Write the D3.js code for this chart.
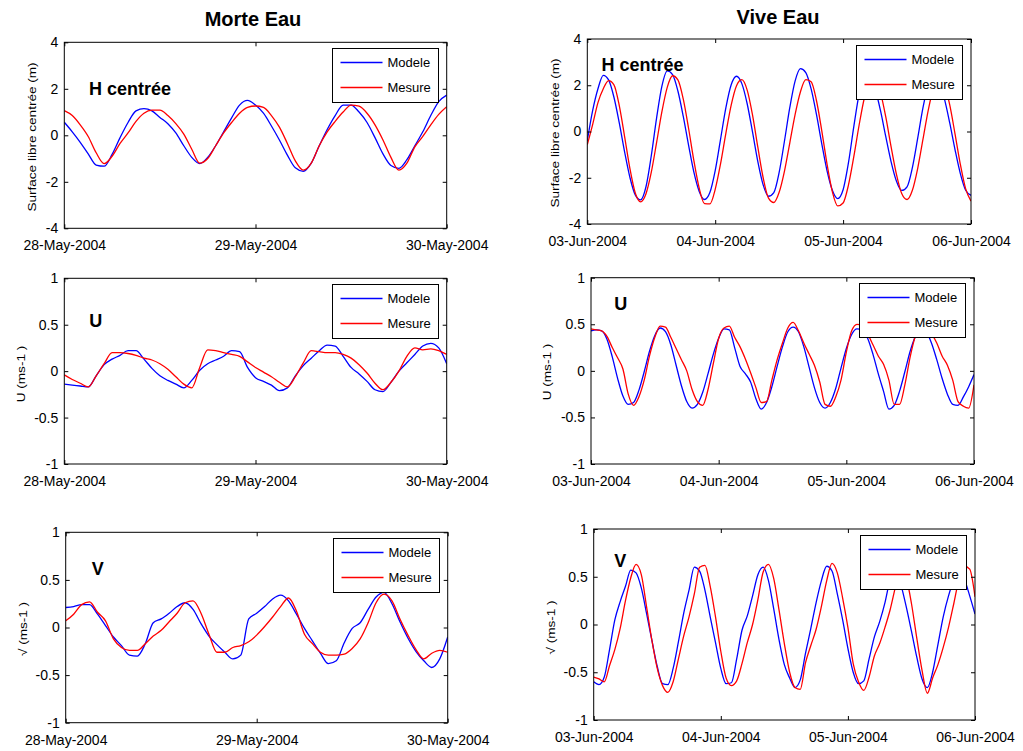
<!DOCTYPE html>
<html>
<head>
<meta charset="utf-8">
<script src="https://cdn.jsdelivr.net/npm/d3@7"></script>
<style>
  body { margin: 0; background: #fff; }
  svg { display: block; font-family: "Liberation Sans", Arial, Helvetica, sans-serif; }
</style>
</head>
<body>
<svg id="fig" width="1023" height="751"></svg>
<script>
// ---- Data -------------------------------------------------------------
const columnTitles = ["Morte Eau", "Vive Eau"];
const periodMorteEau = ["2004-05-28", "2004-05-30"];
const periodViveEau = ["2004-06-03", "2004-06-06"];
const seriesNames = ["Modele", "Mesure"];
const panelTags = ["H centrée", "U", "V"];
const yAxisTitles = ["Surface libre centrée (m)", "U (ms-1 )", "\u221A (ms-1 )"];
const hTicks = [-4, -2, 0, 2, 4];
const velocityTicks = [-1, -0.5, 0, 0.5, 1];

// hourly samples, starting at 00:00 of the first day
const hMorteModele = [0.56,0.15,-0.3,-0.8,-1.28,-1.33,-0.82,-0.1,0.55,1.05,1.15,1.05,0.77,0.5,0.1,-0.45,-0.95,-1.22,-0.95,-0.45,0.15,0.75,1.3,1.5,1.3,0.95,0.4,-0.2,-0.85,-1.4,-1.55,-1.2,-0.45,0.25,0.85,1.3,1.3,1.0,0.55,-0.1,-0.8,-1.3,-1.42,-1.05,-0.45,0.15,0.85,1.45,1.73];
const hMorteMesure = [1.06,0.85,0.45,-0.05,-0.75,-1.22,-0.9,-0.35,0.1,0.6,0.95,1.08,1.08,0.85,0.5,0.05,-0.6,-1.2,-1.0,-0.45,0.1,0.55,0.95,1.2,1.26,1.2,0.85,0.35,-0.35,-1.1,-1.5,-1.2,-0.45,0.15,0.6,1.0,1.3,1.25,0.95,0.45,-0.2,-0.95,-1.5,-1.2,-0.5,-0.05,0.45,0.9,1.23];
const hViveModele = [-0.4,0.9,1.85,2.43,2.23,1.48,0.37,-0.88,-1.99,-2.74,-2.96,-2.4,-1.06,0.58,1.96,2.62,2.46,1.75,0.66,-0.59,-1.76,-2.59,-2.94,-2.64,-1.69,-0.34,1.02,2.02,2.39,2.07,1.2,-0.02,-1.3,-2.31,-2.8,-2.64,-1.77,-0.41,1.04,2.19,2.72,2.55,1.84,0.74,-0.53,-1.71,-2.55,-2.9,-2.52,-1.36,0.2,1.62,2.42,2.41,1.86,0.92,-0.21,-1.3,-2.14,-2.55,-2.39,-1.56,-0.29,1.04,2.03,2.4,2.14,1.42,0.38,-0.78,-1.82,-2.54,-2.76];
const hViveMesure = [-0.57,0.3,1.25,1.85,2.2,2.02,1.12,-0.22,-1.61,-2.66,-3.04,-2.7,-1.77,-0.48,0.86,1.91,2.41,2.23,1.41,0.14,-1.26,-2.45,-3.12,-3.13,-2.5,-1.4,-0.08,1.14,1.98,2.24,1.79,0.72,-0.68,-2.0,-2.88,-3.07,-2.63,-1.71,-0.49,0.74,1.72,2.24,2.15,1.34,0.03,-1.43,-2.62,-3.22,-3.09,-2.32,-1.1,0.27,1.46,2.18,2.25,1.69,0.64,-0.65,-1.84,-2.68,-2.94,-2.54,-1.59,-0.32,0.95,1.9,2.3,2.03,1.16,-0.1,-1.42,-2.48,-3.01];

const uMorteModele = [-0.14,-0.15,-0.16,-0.17,-0.05,0.07,0.13,0.17,0.22,0.22,0.13,0.03,-0.05,-0.1,-0.14,-0.18,-0.1,0.01,0.08,0.12,0.16,0.22,0.21,0.04,-0.07,-0.11,-0.15,-0.21,-0.18,-0.05,0.06,0.14,0.22,0.28,0.27,0.16,0.04,-0.03,-0.11,-0.2,-0.22,-0.12,0.0,0.09,0.18,0.27,0.3,0.25,0.08];
const uMorteMesure = [-0.04,-0.09,-0.13,-0.17,-0.05,0.08,0.2,0.2,0.19,0.17,0.14,0.12,0.08,0.02,-0.06,-0.14,-0.18,0.04,0.23,0.22,0.2,0.18,0.16,0.1,0.04,-0.01,-0.06,-0.12,-0.17,-0.06,0.09,0.22,0.21,0.2,0.2,0.18,0.14,0.07,-0.02,-0.13,-0.2,-0.12,0.0,0.16,0.25,0.23,0.24,0.22,0.18];
const uViveModele = [0.43,0.44,0.43,0.34,0.15,-0.08,-0.27,-0.36,-0.34,-0.21,-0.01,0.21,0.38,0.46,0.42,0.28,0.06,-0.16,-0.33,-0.4,-0.36,-0.23,-0.03,0.18,0.35,0.45,0.44,0.25,0.05,-0.03,-0.12,-0.3,-0.41,-0.34,-0.17,0.05,0.26,0.42,0.47,0.42,0.26,0.04,-0.18,-0.34,-0.4,-0.34,-0.19,0.03,0.24,0.39,0.45,0.44,0.35,0.18,-0.03,-0.22,-0.41,-0.37,-0.22,-0.01,0.21,0.37,0.45,0.42,0.3,0.12,-0.08,-0.25,-0.36,-0.37,-0.28,-0.17,-0.04];
const uViveMesure = [0.45,0.44,0.43,0.37,0.25,0.14,0.02,-0.25,-0.37,-0.28,-0.1,0.16,0.36,0.48,0.47,0.36,0.24,0.12,0.0,-0.2,-0.33,-0.37,-0.2,0.08,0.35,0.46,0.48,0.36,0.26,0.13,-0.02,-0.18,-0.34,-0.33,-0.1,0.12,0.3,0.46,0.52,0.43,0.3,0.18,0.06,-0.12,-0.36,-0.38,-0.28,-0.1,0.2,0.43,0.5,0.49,0.4,0.28,0.16,0.07,-0.1,-0.36,-0.36,-0.15,0.15,0.38,0.48,0.47,0.4,0.3,0.16,0.06,-0.1,-0.33,-0.38,-0.4,-0.15];

const vMorteModele = [0.21,0.22,0.24,0.24,0.14,0.02,-0.1,-0.19,-0.29,-0.3,-0.17,0.05,0.09,0.15,0.22,0.26,0.19,0.04,-0.09,-0.18,-0.26,-0.33,-0.29,0.09,0.15,0.22,0.3,0.34,0.28,0.14,-0.01,-0.14,-0.27,-0.38,-0.35,-0.16,-0.01,0.05,0.19,0.32,0.37,0.25,0.06,-0.11,-0.25,-0.35,-0.42,-0.33,-0.1];
const vMorteMesure = [0.07,0.14,0.24,0.27,0.16,0.07,-0.12,-0.21,-0.24,-0.24,-0.17,-0.09,-0.03,0.06,0.15,0.26,0.28,0.15,-0.07,-0.26,-0.26,-0.21,-0.19,-0.15,-0.08,0.01,0.11,0.22,0.31,0.17,-0.07,-0.17,-0.26,-0.29,-0.29,-0.28,-0.22,-0.12,0.05,0.26,0.35,0.28,0.09,-0.08,-0.23,-0.33,-0.27,-0.24,-0.26];
const vViveModele = [-0.6,-0.63,-0.55,-0.26,0.05,0.24,0.4,0.57,0.54,0.38,0.11,-0.17,-0.44,-0.62,-0.63,-0.46,-0.18,0.12,0.36,0.6,0.56,0.36,0.08,-0.19,-0.46,-0.62,-0.61,-0.36,-0.06,0.09,0.3,0.52,0.6,0.46,0.16,-0.16,-0.42,-0.56,-0.66,-0.58,-0.3,-0.04,0.23,0.46,0.61,0.56,0.32,0.05,-0.25,-0.5,-0.62,-0.59,-0.36,-0.13,0.03,0.23,0.48,0.6,0.42,0.19,-0.07,-0.34,-0.57,-0.66,-0.5,-0.21,0.08,0.3,0.46,0.55,0.47,0.3,0.11];
const vViveMesure = [-0.55,-0.57,-0.6,-0.43,-0.26,-0.04,0.25,0.49,0.63,0.52,0.18,-0.17,-0.46,-0.64,-0.71,-0.6,-0.36,-0.12,0.08,0.32,0.6,0.62,0.4,0.08,-0.28,-0.56,-0.64,-0.59,-0.41,-0.19,0.0,0.26,0.55,0.63,0.48,0.15,-0.2,-0.5,-0.66,-0.68,-0.4,-0.22,-0.05,0.19,0.46,0.64,0.54,0.28,-0.03,-0.41,-0.6,-0.69,-0.55,-0.33,-0.2,-0.03,0.16,0.4,0.61,0.5,0.22,-0.14,-0.48,-0.72,-0.56,-0.42,-0.24,-0.03,0.22,0.48,0.61,0.58,0.29];

// ---- Layout -----------------------------------------------------------
const seriesColors = ["#0000ff", "#ff0000"];
const parseDay = d3.timeParse("%Y-%m-%d");
const formatDay = d3.timeFormat("%d-%b-%Y");
const plainNumber = d => String(d);   // hyphen-minus, as MATLAB prints it

const panels = [
  { col: 0, row: 0, box: [64.3, 446.7, 42.3, 228.3], ticks: hTicks, series: [hMorteModele, hMorteMesure],
    tag: [89, 95], ylab: [31.5, 137] },
  { col: 1, row: 0, box: [587.3, 971, 39, 224], ticks: hTicks, series: [hViveModele, hViveMesure],
    tag: [601.5, 71], ylab: [554.5, 133] },
  { col: 0, row: 1, box: [64.3, 446.7, 278.3, 464], ticks: velocityTicks, series: [uMorteModele, uMorteMesure],
    tag: [89.3, 326.7], ylab: [20.5, 374] },
  { col: 1, row: 1, box: [591, 974, 277.7, 464], ticks: velocityTicks, series: [uViveModele, uViveMesure],
    tag: [614.3, 310], ylab: [546.5, 372] },
  { col: 0, row: 2, box: [65.7, 447.7, 532.3, 722.7], ticks: velocityTicks, series: [vMorteModele, vMorteMesure],
    tag: [91.7, 575], ylab: [23, 629] },
  { col: 1, row: 2, box: [593.7, 975, 529, 720], ticks: velocityTicks, series: [vViveModele, vViveMesure],
    tag: [614.3, 566.7], ylab: [551, 627.5] }
];
const titlePos = [[253, 26], [778, 24]];

const svg = d3.select("#fig");
svg.append("rect").attr("width", 1023).attr("height", 751).attr("fill", "#fff");

// column titles
columnTitles.forEach((t, i) => {
  svg.append("text")
    .attr("x", titlePos[i][0]).attr("y", titlePos[i][1])
    .attr("text-anchor", "middle")
    .attr("font-size", 20).attr("font-weight", "bold")
    .text(t);
});

const defs = svg.append("defs");

panels.forEach((p, idx) => {
  const [x0, x1, y0, y1] = p.box;
  const period = p.col === 0 ? periodMorteEau : periodViveEau;
  const start = parseDay(period[0]), end = parseDay(period[1]);
  const days = d3.timeDay.range(start, d3.timeDay.offset(end, 1));

  const x = d3.scaleTime().domain([start, end]).range([x0, x1]);
  const y = d3.scaleLinear().domain([p.ticks[0], p.ticks[p.ticks.length - 1]]).range([y1, y0]);

  const g = svg.append("g");

  // plotting area
  g.append("rect").attr("x", x0).attr("y", y0).attr("width", x1 - x0).attr("height", y1 - y0)
    .attr("fill", "#fff");

  defs.append("clipPath").attr("id", "clip" + idx)
    .append("rect").attr("x", x0).attr("y", y0).attr("width", x1 - x0).attr("height", y1 - y0);

  // curves
  const line = d3.line()
    .x((d, i) => x(d3.timeHour.offset(start, i)))
    .y(d => y(d))
    .curve(d3.curveMonotoneX);

  const lines = g.append("g").attr("clip-path", `url(#clip${idx})`);
  p.series.forEach((s, k) => {
    lines.append("path").datum(s)
      .attr("d", line)
      .attr("fill", "none")
      .attr("stroke", seriesColors[k])
      .attr("stroke-width", 1.3)
      .attr("stroke-linejoin", "round");
  });

  // axes with inward ticks on all four sides
  const styleAxis = sel => {
    sel.select(".domain").remove();
    sel.selectAll("line").attr("stroke", "#000");
    sel.selectAll("text").attr("fill", "#000").attr("font-size", 14)
      .attr("font-family", "'Liberation Sans', Arial, sans-serif");
  };
  g.append("g").attr("transform", `translate(${x0},0)`)
    .call(d3.axisLeft(y).tickValues(p.ticks).tickSizeInner(-4).tickSizeOuter(0).tickPadding(6)
      .tickFormat(plainNumber))
    .call(styleAxis);
  g.append("g").attr("transform", `translate(${x1},0)`)
    .call(d3.axisRight(y).tickValues(p.ticks).tickSizeInner(-4).tickSizeOuter(0).tickFormat(""))
    .call(styleAxis);
  g.append("g").attr("transform", `translate(0,${y1})`)
    .call(d3.axisBottom(x).tickValues(days).tickSizeInner(-4).tickSizeOuter(0).tickPadding(12)
      .tickFormat(formatDay))
    .call(styleAxis);
  g.append("g").attr("transform", `translate(0,${y0})`)
    .call(d3.axisTop(x).tickValues(days).tickSizeInner(-4).tickSizeOuter(0).tickFormat(""))
    .call(styleAxis);

  // frame
  g.append("rect").attr("x", x0).attr("y", y0).attr("width", x1 - x0).attr("height", y1 - y0)
    .attr("fill", "none").attr("stroke", "#000").attr("stroke-width", 1);

  // y axis title
  g.append("text")
    .attr("transform", `translate(${p.ylab[0]},${p.ylab[1]}) rotate(-90) scale(1.18,1)`)
    .attr("text-anchor", "middle").attr("dy", "0.35em")
    .attr("font-size", 11.5)
    .text(yAxisTitles[p.row]);

  // variable tag
  g.append("text")
    .attr("x", p.tag[0]).attr("y", p.tag[1])
    .attr("font-size", 18).attr("font-weight", "bold")
    .text(panelTags[p.row]);

  // legend
  const lw = 106, lh = 54;
  const lx = Math.round(x1 - 8.7 - lw) + 0.5, ly = Math.round(y0 + 5.5) + 0.5;
  const leg = g.append("g").attr("transform", `translate(${lx},${ly})`);
  leg.append("rect").attr("width", lw).attr("height", lh)
    .attr("fill", "#fff").attr("stroke", "#000").attr("stroke-width", 1);
  seriesNames.forEach((name, k) => {
    const ry = 14 + k * 25;
    leg.append("line").attr("x1", 8).attr("x2", 50).attr("y1", ry).attr("y2", ry)
      .attr("stroke", seriesColors[k]).attr("stroke-width", 1.3);
    leg.append("text").attr("x", 55).attr("y", ry).attr("dy", "0.35em")
      .attr("font-size", 13).text(name);
  });
});
</script>
</body>
</html>
